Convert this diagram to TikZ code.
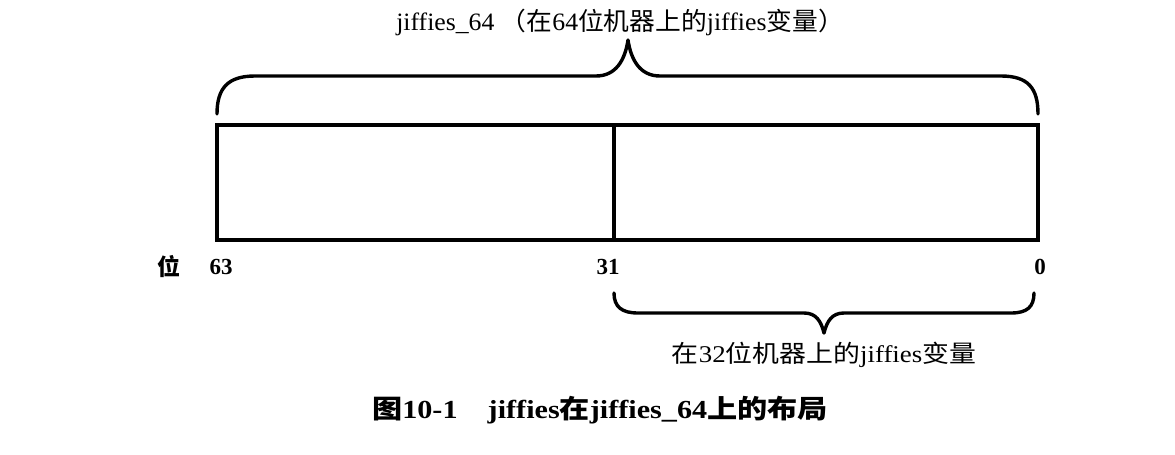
\documentclass[tikz,border=0pt]{standalone}
\usepackage{fontspec}
\usepackage{graphicx}
\setmainfont{Liberation Serif}
\newfontfamily\cjk{Noto Sans CJK SC}
\begin{document}
\begin{tikzpicture}[x=1pt,y=-1pt,
  thick line/.style={line width=3.4pt},
  label text/.style={font=\bfseries\fontsize{23}{27}\selectfont, inner sep=0pt},
  brace line/.style={line width=3.4pt, line cap=round, line join=round}]
\useasboundingbox (0,0) rectangle (1175,455);
% register box
\coordinate (tl) at (217,125);
\coordinate (br) at (1038,240);
\coordinate (mt) at (614,125);
\coordinate (mb) at (614,240);
\draw[thick line] (tl) rectangle (br);
\draw[thick line] (mt) -- (mb);
% top brace
\coordinate (ta) at (217,114);
\coordinate (tb) at (1038,114);
\coordinate (tt) at (628,40);
\draw[brace line] (ta) .. controls (217,88) and (228,76) .. (255,76) -- (596,76)
  .. controls (616,76) and (625,60) .. (tt)
  .. controls (631,60) and (640,76) .. (660,76) -- (1001,76)
  .. controls (1028,76) and (1038,88) .. (tb);
% bottom brace
\coordinate (ba) at (614,293);
\coordinate (bb) at (1034,293);
\coordinate (bt) at (824,333);
\draw[brace line] (ba) .. controls (614,307) and (622,313) .. (638,313) -- (804,313)
  .. controls (816,313) and (821,321) .. (bt)
  .. controls (827,321) and (832,313) .. (844,313) -- (1011,313)
  .. controls (1027,313) and (1034,307) .. (bb);
% texts
\node[inner sep=0pt, font=\fontsize{25}{29}\selectfont] (title) at (620,22)
  {\scalebox{1.03}[1]{jiffies\_64\ {\cjk （在}64{\cjk 位机器上的}jiffies{\cjk 变量）}}};
\node[label text] (wei) at (169,267) {\cjk 位};
\node[label text] (b63) at (221,267) {63};
\node[label text] (b31) at (608,267) {31};
\node[label text] (b0) at (1040,267) {0};
\node[inner sep=0pt, font=\fontsize{24}{28}\selectfont] (low) at (824,355)
  {\scalebox{1.12}[1]{{\cjk 在}32{\cjk 位机器上的}jiffies{\cjk 变量}}};
\node[inner sep=0pt, font=\bfseries\fontsize{26}{30}\selectfont] (cap) at (600,410)
  {\scalebox{1.16}[1]{{\cjk 图}10-1\quad jiffies{\cjk 在}jiffies\_64{\cjk 上的布局}}};
\end{tikzpicture}
\end{document}
